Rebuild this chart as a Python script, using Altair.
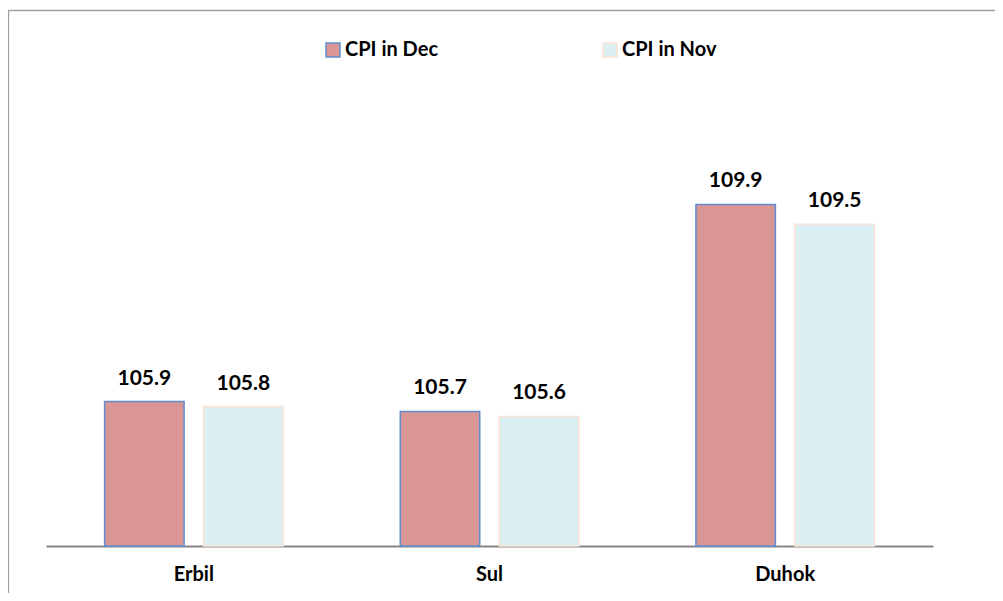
import altair as alt
import pandas as pd

# ---- data ----
regions = ["Erbil", "Sul", "Duhok"]
months = ["CPI in Dec", "CPI in Nov"]
cpi_dec = [105.9, 105.7, 109.9]
cpi_nov = [105.8, 105.6, 109.5]

Y_MIN = 102.97
Y_MAX = 112.0
FONT = "Lato"

rows = []
for r, d, n in zip(regions, cpi_dec, cpi_nov):
    rows.append({"region": r, "month": months[0], "cpi": d})
    rows.append({"region": r, "month": months[1], "cpi": n})
df = pd.DataFrame(rows)

x_enc = alt.X(
    "region:N", sort=regions,
    scale=alt.Scale(paddingInner=0, paddingOuter=0),
    axis=alt.Axis(title=None, labelAngle=0, ticks=False, tickSize=0,
                  domainColor="#868686", domainWidth=2,
                  labelFont=FONT, labelFontSize=20, labelFontWeight="bold",
                  labelColor="#000000", labelBaseline="alphabetic",
                  labelPadding=34, grid=False),
)
xoff = alt.XOffset("month:N", sort=months,
                   scale=alt.Scale(paddingInner=0.197, paddingOuter=0.592))
y_enc = alt.Y("cpi:Q", scale=alt.Scale(domain=[Y_MIN, Y_MAX], zero=False, nice=False),
              axis=None)

legend_kw = dict(
    orient="none", legendX=277, legendY=-61, direction="horizontal",
    title=None, symbolType="square", symbolSize=196, symbolStrokeWidth=1.5,
    labelFont=FONT, labelFontSize=20, labelFontWeight="bold",
    labelColor="#000000", labelOffset=2, columnPadding=161, padding=0,
)

bars = alt.Chart(df).mark_bar(strokeWidth=1.5, opacity=1).encode(
    x=x_enc,
    xOffset=xoff,
    y=y_enc,
    y2=alt.datum(Y_MIN),
    fill=alt.Fill("month:N", sort=months,
                  scale=alt.Scale(domain=months, range=["#D99694", "#DBEEF4"]),
                  legend=alt.Legend(**legend_kw)),
    stroke=alt.Stroke("month:N", sort=months,
                      scale=alt.Scale(domain=months, range=["#5F8FD0", "#FBE3D3"]),
                      legend=alt.Legend(**legend_kw)),
)

labels = alt.Chart(df).mark_text(
    dy=-17, baseline="alphabetic", align="center",
    font=FONT, fontSize=21, fontWeight="bold", color="#000000",
).encode(
    x=x_enc,
    xOffset=xoff,
    y=y_enc,
    text=alt.Text("cpi:Q", format=".1f"),
)

one = pd.DataFrame({"k": [0]})
frame_left = alt.Chart(one).mark_rule(color="#A0A0A0", strokeWidth=1.3).encode(
    x=alt.value(-37.5), y=alt.value(-91), y2=alt.value(560),
)
frame_top = alt.Chart(one).mark_rule(color="#A0A0A0", strokeWidth=1.3).encode(
    x=alt.value(-38), x2=alt.value(1000), y=alt.value(-90.5),
)

chart = alt.layer(frame_left, frame_top, bars, labels).properties(
    width=887,
    height=445,
    autosize=alt.AutoSizeParams(type="none"),
    padding={"left": 38, "top": 93, "right": 62, "bottom": 47},
).configure_view(stroke=None)

chart.save("out.html", embed_options={"renderer": "svg", "actions": False})
